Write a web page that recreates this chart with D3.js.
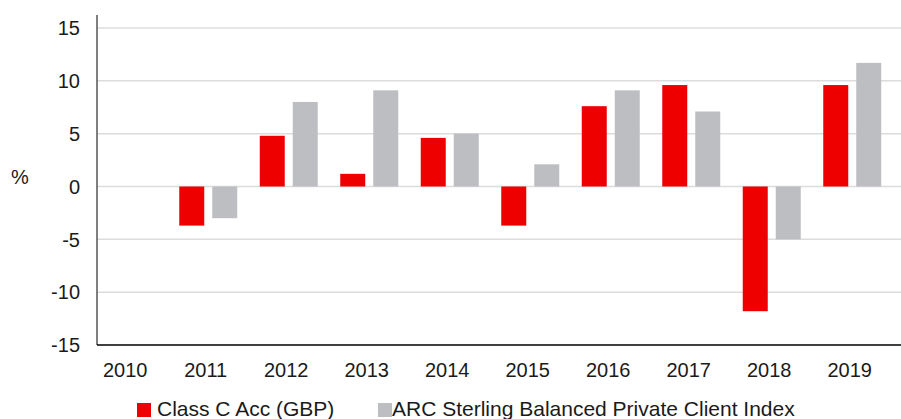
<!DOCTYPE html>
<html lang="en">
<head>
    <meta charset="UTF-8">
    <title>Class C Acc vs ARC Index</title>
    <script src="https://d3js.org/d3.v7.min.js"></script>
    <style>
        body { margin: 0; background: #fff; }
        text { font-family: "Liberation Sans", Arial, sans-serif; fill: #1a1a1a; }
    </style>
</head>
<body>
    <div id="chart"></div>
    <script>
        // discrete annual returns, %
        var years = ["2010", "2011", "2012", "2013", "2014", "2015", "2016", "2017", "2018", "2019"];
        var fund = [null, -3.7, 4.8, 1.2, 4.6, -3.7, 7.6, 9.6, -11.8, 9.6];
        var arc = [null, -3.0, 8.0, 9.1, 5.0, 2.1, 9.1, 7.1, -5.0, 11.7];
        var seriesNames = ["Class C Acc (GBP)", "ARC Sterling Balanced Private Client Index"];
        var seriesColors = ["#ee0000", "#bdbec2"];
        var yTicks = [-15, -10, -5, 0, 5, 10, 15];

        var width = 901, height = 419;
        var plotLeft = 97, plotRight = 901, plotTop = 28, plotBottom = 345;

        var svg = d3.select("#chart")
            .append("svg")
            .attr("width", width)
            .attr("height", height);

        var y = d3.scaleLinear()
            .domain([-15, 15])
            .range([plotBottom, plotTop]);

        var x0 = d3.scaleBand()
            .domain(years)
            .range([85, 890]);

        var x1 = d3.scaleBand()
            .domain([0, 1])
            .range([0, 58])
            .paddingInner(0.2424);

        // gridlines
        svg.append("g")
            .selectAll("line")
            .data(yTicks.filter(function (d) { return d !== -15; }))
            .enter().append("line")
            .attr("x1", plotLeft)
            .attr("x2", plotRight)
            .attr("y1", function (d) { return y(d); })
            .attr("y2", function (d) { return y(d); })
            .attr("stroke", "#dcdcdc")
            .attr("stroke-width", 1.5);

        // y tick labels
        svg.append("g")
            .selectAll("text")
            .data(yTicks)
            .enter().append("text")
            .attr("x", 80)
            .attr("y", function (d) { return y(d); })
            .attr("dy", "0.36em")
            .attr("text-anchor", "end")
            .style("font-size", "20px")
            .text(function (d) { return d; });

        svg.append("text")
            .attr("x", 20)
            .attr("y", 177)
            .attr("dy", "0.36em")
            .attr("text-anchor", "middle")
            .style("font-size", "20px")
            .text("%");

        // bars
        var rows = years.map(function (yr, i) {
            return { year: yr, vals: [fund[i], arc[i]] };
        });

        var groups = svg.append("g")
            .selectAll("g")
            .data(rows)
            .enter().append("g")
            .attr("transform", function (d) {
                return "translate(" + (x0(d.year) + (x0.bandwidth() - 58) / 2 + 2.5) + ",0)";
            });

        groups.selectAll("rect")
            .data(function (d) {
                return d.vals.map(function (v, k) { return { k: k, v: v }; })
                    .filter(function (e) { return e.v !== null; });
            })
            .enter().append("rect")
            .attr("x", function (d) { return x1(d.k); })
            .attr("width", x1.bandwidth())
            .attr("y", function (d) { return y(Math.max(0, d.v)); })
            .attr("height", function (d) { return Math.abs(y(d.v) - y(0)); })
            .attr("fill", function (d) { return seriesColors[d.k]; });

        // axes lines
        svg.append("line")
            .attr("x1", plotLeft).attr("x2", plotLeft)
            .attr("y1", 15).attr("y2", plotBottom)
            .attr("stroke", "#555")
            .attr("stroke-width", 1.5);

        svg.append("line")
            .attr("x1", plotLeft).attr("x2", plotRight)
            .attr("y1", plotBottom).attr("y2", plotBottom)
            .attr("stroke", "#000")
            .attr("stroke-width", 1.5);

        // year labels
        svg.append("g")
            .selectAll("text")
            .data(years)
            .enter().append("text")
            .attr("x", function (d) { return x0(d) + x0.bandwidth() / 2; })
            .attr("y", 377)
            .attr("text-anchor", "middle")
            .style("font-size", "20px")
            .text(function (d) { return d; });

        // legend
        var legendX = [137, 378];
        var legend = svg.append("g")
            .selectAll("g")
            .data(seriesNames)
            .enter().append("g")
            .attr("transform", function (d, i) { return "translate(" + legendX[i] + ",403)"; });

        legend.append("rect")
            .attr("width", 14)
            .attr("height", 14)
            .attr("fill", function (d, i) { return seriesColors[i]; });

        legend.append("text")
            .attr("x", function (d, i) { return i === 0 ? 20 : 14; })
            .attr("y", 12.5)
            .style("font-size", "21px")
            .text(function (d) { return d; });
    </script>
</body>
</html>
